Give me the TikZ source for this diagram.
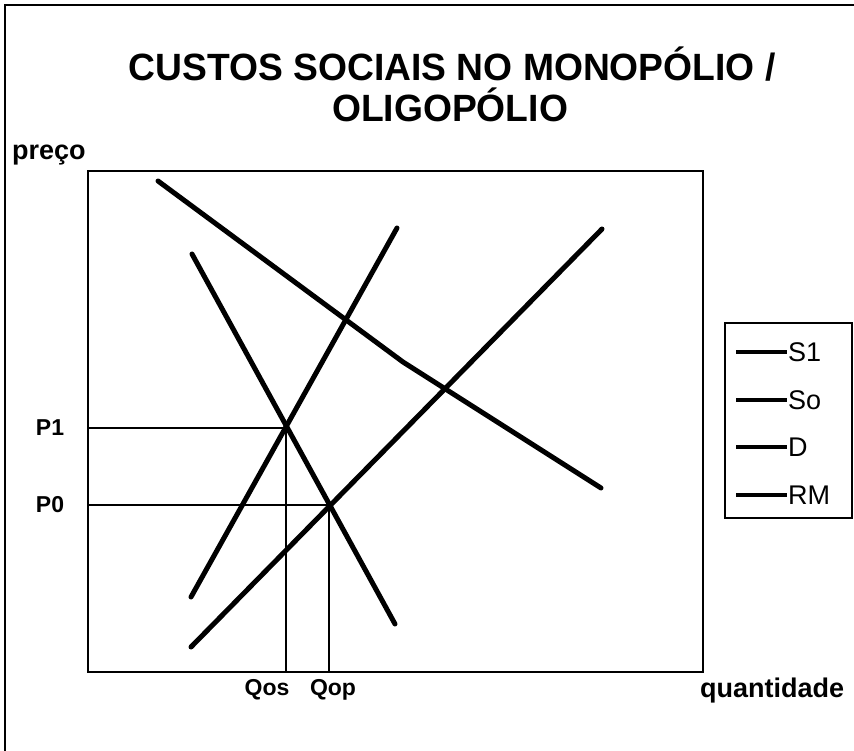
\documentclass[tikz,border=0pt]{standalone}
\usepackage{fontspec}
\setmainfont{Liberation Sans}
\begin{document}
\begin{tikzpicture}[x=1pt,y=-1pt,
  curve/.style={line width=5pt,line cap=round,line join=round},
  guide/.style={line width=1.8pt},
  frame/.style={line width=2.2pt},
  legline/.style={line width=4.5pt},
  axlabel/.style={font=\fontsize{27}{30}\selectfont\bfseries,inner sep=0pt},
  ticklabel/.style={font=\fontsize{23}{26}\selectfont\bfseries,inner sep=0pt},
  legtext/.style={font=\fontsize{27}{29}\selectfont,inner sep=0pt,anchor=west},
  titletext/.style={font=\fontsize{38}{42}\selectfont\bfseries,inner sep=0pt,xscale=0.98}]
\useasboundingbox (0,0) rectangle (854,751);
% outer frame (left and top edges)
\draw[frame] (5,751) -- (5,5) -- (854,5);
% title
\node[titletext,anchor=base] (t1) at (452,81) {CUSTOS SOCIAIS NO MONOPÓLIO /};
\node[titletext,anchor=base] (t2) at (450,122) {OLIGOPÓLIO};
% plot box
\draw[frame] (88,171) rectangle (703,672);
% axis labels
\node[axlabel,anchor=base west] (py) at (12,160) {preço};
\node[axlabel,anchor=base west] (qx) at (700,697) {quantidade};
% guides
\coordinate (E1) at (286,428);
\coordinate (E0) at (329,505);
\draw[guide] (88,428) -- (E1) -- (286,672);
\draw[guide] (88,505) -- (E0) -- (329,672);
\node[ticklabel] (p1) at (50,428) {P1};
\node[ticklabel] (p0) at (50,505) {P0};
\node[ticklabel] (qos) at (267,690) {Qos};
\node[ticklabel] (qop) at (333,690) {Qop};
% curves
\draw[curve] (191,597) -- (397,228);
\draw[curve] (191,647) -- (602,229);
\draw[curve] (192,254) -- (395,624);
\draw[curve] (158,181) -- (403,362) -- (601,488);
% legend
\draw[frame] (725,323) rectangle (852,518);
\draw[legline] (736,352) -- (787,352);
\draw[legline] (736,400) -- (787,400);
\draw[line width=3.2pt] (736,447) -- (787,447);
\draw[legline] (736,495) -- (787,495);
\node[legtext] (l1) at (788,352) {S1};
\node[legtext] (l2) at (788,400) {So};
\node[legtext] (l3) at (788,447) {D};
\node[legtext] (l4) at (788,495) {RM};
\end{tikzpicture}
\end{document}
